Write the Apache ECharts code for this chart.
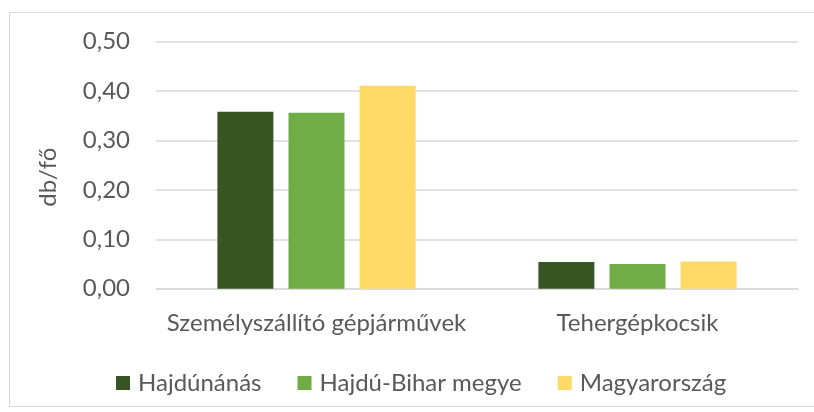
<!DOCTYPE html>
<html>
<head>
<meta charset="utf-8">
<script src="https://cdn.jsdelivr.net/npm/echarts@6/dist/echarts.min.js"></script>
<style>
  html, body { margin: 0; padding: 0; background: #fff; }
  #main { width: 814px; height: 412px; }
</style>
</head>
<body>
<div id="main"></div>
<script>
// data
var categories = ['Személyszállító gépjárművek', 'Tehergépkocsik'];
var hajdunanas = [0.358, 0.054];
var hajduBihar = [0.356, 0.050];
var magyarorszag = [0.411, 0.055];
var seriesNames = ['Hajdúnánás', 'Hajdú-Bihar megye', 'Magyarország'];

var font = 'Lato';
var textColor = '#595959';

var chart = echarts.init(document.getElementById('main'));

var option = {
    animation: false,
    color: ['#375623', '#70ad47', '#ffd966'],
    graphic: [{
        type: 'rect',
        shape: { x: 9.5, y: 12.5, width: 830, height: 394 },
        style: { fill: 'none', stroke: '#d9d9d9', lineWidth: 1 },
        silent: true
    }],
    grid: { left: 156, right: 16, top: 41.7, bottom: 123.3 },
    legend: {
        data: seriesNames,
        left: 111,
        top: 366,
        itemWidth: 14,
        itemHeight: 14,
        itemGap: 36,
        icon: 'rect',
        textStyle: { fontFamily: font, fontSize: 24, color: textColor, padding: [0, 0, 0, 3] }
    },
    xAxis: {
        type: 'category',
        data: categories,
        axisLine: { lineStyle: { color: '#d9d9d9', width: 1.5 } },
        axisTick: { show: false },
        axisLabel: { interval: 0, fontFamily: font, fontSize: 24, color: textColor, margin: 23 }
    },
    yAxis: {
        type: 'value',
        min: 0,
        max: 0.5,
        interval: 0.1,
        name: 'db/fő',
        nameLocation: 'middle',
        nameGap: 96,
        nameTextStyle: { fontFamily: font, fontSize: 24, color: textColor, padding: [0, 24, 0, 0] },
        axisLine: { show: false },
        axisTick: { show: false },
        splitLine: { lineStyle: { color: '#d9d9d9', width: 1.5 } },
        axisLabel: {
            fontFamily: font, fontSize: 24, color: textColor, margin: 26,
            formatter: function (v) { return v.toFixed(2).replace('.', ','); }
        }
    },
    series: [
        { name: seriesNames[0], type: 'bar', data: hajdunanas, barWidth: 56, barGap: '27%' },
        { name: seriesNames[1], type: 'bar', data: hajduBihar, barWidth: 56, barGap: '27%' },
        { name: seriesNames[2], type: 'bar', data: magyarorszag, barWidth: 56, barGap: '27%' }
    ]
};

chart.setOption(option);
</script>
</body>
</html>
